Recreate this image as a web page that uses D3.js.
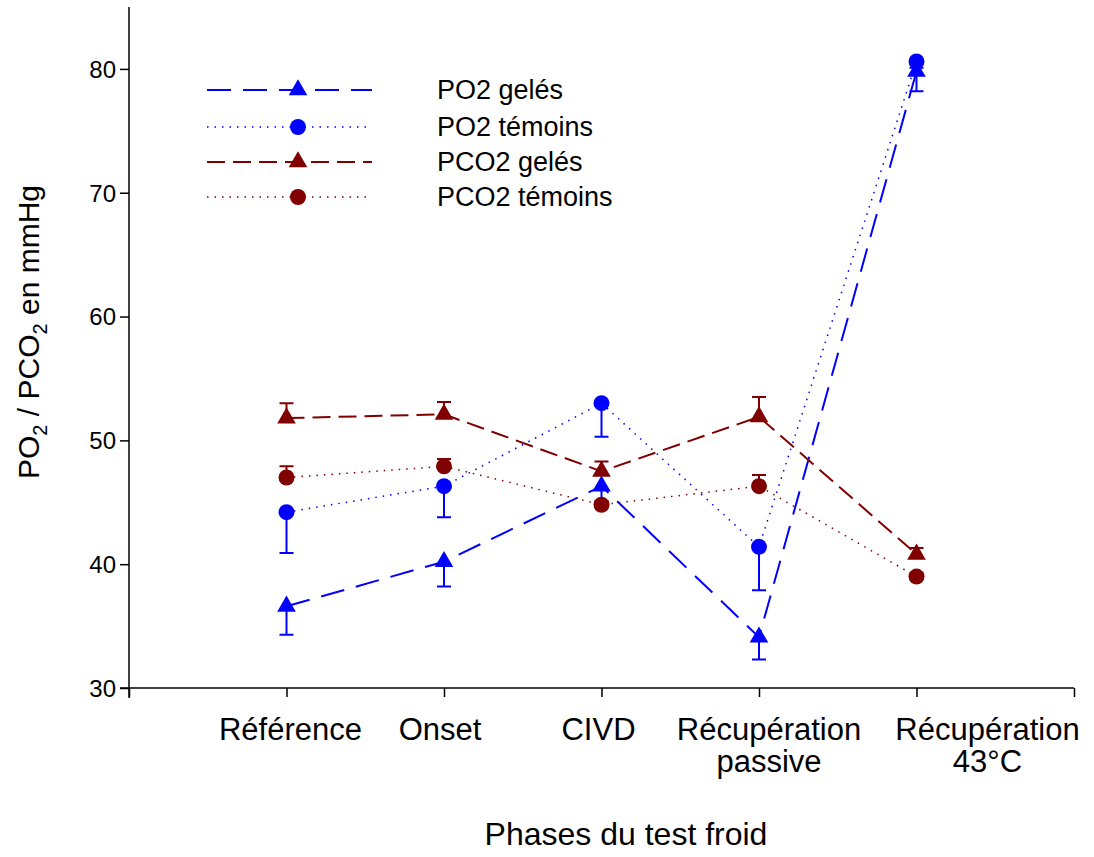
<!DOCTYPE html>
<html>
<head>
<meta charset="utf-8">
<script src="https://cdn.jsdelivr.net/npm/d3@7"></script>
<style>
    body { margin: 0; background: #fff; }
    text { font-family: 'Liberation Sans', Arial, sans-serif; fill: #000; }
</style>
</head>
<body>
<div id="po2-pco2"></div>
<script>
'use strict';

// phases on the x axis (index 1..5 on a 0..6 scale)
var categories = [['Référence'], ['Onset'], ['CIVD'], ['Récupération', 'passive'], ['Récupération', '43°C']];

var po2Geles = [36.6, 40.2, 46.3, 34.1, 79.8];
var po2GelesErr = [2.3, 2.0, 1.5, 1.8, 1.6];

var po2Temoins = [44.2, 46.3, 53.0, 41.4, 80.6];
var po2TemoinsErr = [3.3, 2.5, 2.7, 3.5, 0.5];

var pco2Geles = [51.8, 52.1, 47.5, 51.9, 40.8];
var pco2GelesErr = [1.2, 1.0, 0.8, 1.6, 0.5];

var pco2Temoins = [47.0, 47.9, 44.8, 46.3, 39.0];
var pco2TemoinsErr = [0.9, 0.6, 0.3, 0.9, 0.3];

var yTicks = [30, 40, 50, 60, 70, 80];

var moduleGazChart = (function() {

    var width = 1094,
        height = 857;

    var blue = '#0000ff',
        darkRed = '#800000';

    // the phase labels are not exactly centred on their ticks in the original
    var labelShift = [4, -4, -3, 10, 71];

    // sign: -1 = error bar below, +1 = above
    var series = [
        {name: 'PO2 gelés', values: po2Geles, errors: po2GelesErr, color: blue, dash: '24,12', lw: 2, symbol: d3.symbolTriangle, sign: -1},
        {name: 'PO2 témoins', values: po2Temoins, errors: po2TemoinsErr, color: blue, dash: '1.5,6', lw: 1.5, symbol: d3.symbolCircle, sign: -1},
        {name: 'PCO2 gelés', values: pco2Geles, errors: pco2GelesErr, color: darkRed, dash: '18,8', lw: 2, symbol: d3.symbolTriangle, sign: 1},
        {name: 'PCO2 témoins', values: pco2Temoins, errors: pco2TemoinsErr, color: darkRed, dash: '1.5,6', lw: 1.5, symbol: d3.symbolCircle, sign: 1}
    ];

    var svg = d3.select('#po2-pco2').append('svg')
        .attr('width', width)
        .attr('height', height);

    var x = d3.scaleLinear().domain([0, 6]).range([129, 1074]);
    var y = d3.scaleLinear().domain([30, 85]).range([688, 7]);

    var symbolPath = function(type) {
        return d3.symbol().type(type).size(type === d3.symbolCircle ? 200 : 150)();
    };

    var init = function() {

        // axes
        var yAxis = d3.axisLeft(y).tickValues(yTicks).tickSize(9).tickPadding(4);
        var gy = svg.append('g').attr('transform', 'translate(' + x(0) + ',0)').call(yAxis);
        gy.select('.domain').attr('d', 'M0,' + y(85) + 'V' + (y(30) + 10));
        gy.selectAll('line, path').attr('stroke', '#000').attr('stroke-width', 1.5);
        gy.selectAll('text').style('font-size', '24px').attr('dy', '0.35em');

        var xAxis = d3.axisBottom(x).tickValues([0, 1, 2, 3, 4, 5, 6]).tickSize(9).tickFormat('');
        var gx = svg.append('g').attr('transform', 'translate(0,' + y(30) + ')').call(xAxis);
        gx.select('.domain').attr('d', 'M' + (x(0) - 9) + ',0H' + x(6));
        gx.selectAll('line, path').attr('stroke', '#000').attr('stroke-width', 1.5);

        // phase labels, one text per line
        categories.forEach(function(lines, i) {
            svg.append('g').selectAll('text')
                .data(lines)
                .enter()
                .append('text')
                .attr('text-anchor', 'middle')
                .style('font-size', '31px')
                .attr('x', x(i + 1) + labelShift[i])
                .attr('y', function(d, j) { return 740 + j * 32; })
                .text(function(d) { return d; });
        });

        // axis titles
        svg.append('text')
            .attr('x', 626)
            .attr('y', 845)
            .attr('text-anchor', 'middle')
            .style('font-size', '32px')
            .text('Phases du test froid');

        var yl = svg.append('text')
            .attr('transform', 'translate(39,332) rotate(-90)')
            .attr('text-anchor', 'middle')
            .style('font-size', '30px');
        yl.append('tspan').text('PO');
        yl.append('tspan').attr('dy', 8).style('font-size', '20px').text('2');
        yl.append('tspan').attr('dy', -8).text(' / PCO');
        yl.append('tspan').attr('dy', 8).style('font-size', '20px').text('2');
        yl.append('tspan').attr('dy', -8).text(' en mmHg');

        // lines
        var line = d3.line()
            .x(function(d, i) { return x(i + 1); })
            .y(function(d) { return y(d); });

        series.forEach(function(s) {
            var g = svg.append('g');

            g.append('path')
                .attr('d', line(s.values))
                .attr('fill', 'none')
                .attr('stroke', s.color)
                .attr('stroke-width', s.lw)
                .attr('stroke-dasharray', s.dash);

            // error bars, one side only
            g.selectAll('.err')
                .data(s.values)
                .enter()
                .append('path')
                .attr('class', 'err')
                .attr('d', function(d, i) {
                    var cx = x(i + 1),
                        ye = y(d + s.sign * s.errors[i]);
                    return 'M' + cx + ',' + y(d) + 'V' + ye + 'M' + (cx - 7) + ',' + ye + 'H' + (cx + 7);
                })
                .attr('stroke', s.color)
                .attr('stroke-width', 2)
                .attr('fill', 'none');

            g.selectAll('.mark')
                .data(s.values)
                .enter()
                .append('path')
                .attr('class', 'mark')
                .attr('d', symbolPath(s.symbol))
                .attr('transform', function(d, i) {
                    return 'translate(' + x(i + 1) + ',' + y(d) + ')';
                })
                .attr('fill', s.color);
        });

        // legend
        var legend = svg.append('g').selectAll('g')
            .data(series)
            .enter()
            .append('g')
            .attr('transform', function(d, i) {
                return 'translate(0,' + [90, 127, 162, 197][i] + ')';
            });

        legend.append('line')
            .attr('x1', 207).attr('x2', 372)
            .attr('stroke', function(d) { return d.color; })
            .attr('stroke-width', function(d) { return d.lw; })
            .attr('stroke-dasharray', function(d) { return d.dash; });

        legend.append('path')
            .attr('d', function(d) { return symbolPath(d.symbol); })
            .attr('transform', 'translate(298,0)')
            .attr('fill', function(d) { return d.color; });

        legend.append('text')
            .attr('x', 437)
            .attr('y', 9)
            .style('font-size', '27px')
            .text(function(d) { return d.name; });
    };

    return {
        init: init
    };
})();

moduleGazChart.init();
</script>
</body>
</html>
